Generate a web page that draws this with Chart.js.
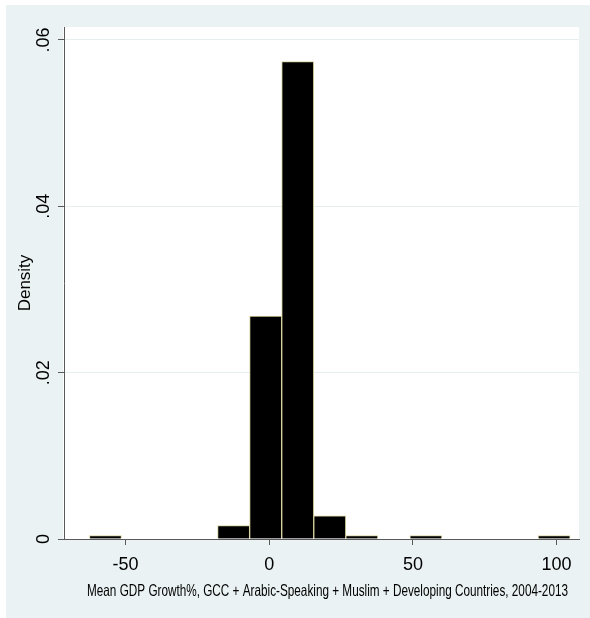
<!DOCTYPE html>
<html>
<head>
<meta charset="utf-8">
<script src="https://cdn.jsdelivr.net/npm/chart.js@4.4.1/dist/chart.umd.min.js"></script>
<style>
  html, body { margin: 0; padding: 0; background: #ffffff; }
  #wrap { width: 590px; height: 618px; position: relative; }
</style>
</head>
<body>
<div id="wrap"><canvas id="hist" width="590" height="618"></canvas></div>
<script>
// Histogram of mean GDP growth (%), density scale, bin width ~11.15
const binCenters = [-56.98, -45.83, -34.68, -23.53, -12.38, -1.23, 9.93, 21.08, 32.23, 43.38, 54.53, 65.68, 76.83, 87.98, 99.13];
const density    = [0.0004, 0, 0, 0, 0.0016, 0.0268, 0.0574, 0.0028, 0.0004, 0, 0.0004, 0, 0, 0, 0.0004];

const xTickValues = [-50, 0, 50, 100];
const xTickLabels = ['-50', '0', '50', '100'];
const yTickValues = [0, 0.02, 0.04, 0.06];
const yTickLabels = ['0', '.02', '.04', '.06'];

const xTitle = 'Mean GDP Growth%, GCC + Arabic-Speaking + Muslim + Developing Countries, 2004-2013';
const yTitle = 'Density';

const FONT = '"Liberation Sans", Arial, sans-serif';
const AXIS = '#5a5a5a';

// Graph region (light bluish gray) and white plot region
const regions = {
  id: 'regions',
  beforeDraw(chart) {
    const { ctx, chartArea: a } = chart;
    ctx.save();
    ctx.fillStyle = '#ffffff';
    ctx.fillRect(0, 0, chart.width, chart.height);
    ctx.fillStyle = '#eaf2f3';
    ctx.fillRect(6, 5, chart.width - 6, chart.height - 5);
    ctx.fillStyle = '#ffffff';
    ctx.fillRect(a.left - 1, a.top, a.right - a.left + 1, a.bottom - a.top);
    ctx.restore();
  }
};

// Condensed x-axis caption under the tick labels
const xCaption = {
  id: 'xCaption',
  afterDraw(chart) {
    const { ctx } = chart;
    ctx.save();
    ctx.fillStyle = '#000000';
    ctx.font = '16.5px ' + FONT;
    ctx.textAlign = 'center';
    ctx.textBaseline = 'middle';
    ctx.fillText(xTitle, 327.5, 591, 481);
    ctx.restore();
  }
};

const points = binCenters.map((x, i) => ({ x, y: density[i] }));

new Chart(document.getElementById('hist'), {
  type: 'bar',
  data: {
    datasets: [{
      data: points,
      backgroundColor: '#000000',
      borderColor: '#d9d2a0',
      borderWidth: 1,
      barPercentage: 1,
      categoryPercentage: 1
    }]
  },
  options: {
    responsive: false,
    animation: false,
    events: [],
    layout: { padding: { left: 0, right: 11, top: 27, bottom: 0 } },
    plugins: { legend: { display: false }, tooltip: { enabled: false } },
    scales: {
      x: {
        type: 'linear',
        offset: false,
        min: -71.4,
        max: 107.8,
        afterBuildTicks(scale) { scale.ticks = xTickValues.map(v => ({ value: v })); },
        afterFit(scale) { scale.height = 79; },
        ticks: {
          autoSkip: false,
          maxRotation: 0,
          padding: 9,
          color: '#000000',
          font: { family: FONT, size: 18 },
          callback: (v) => xTickLabels[xTickValues.indexOf(v)]
        },
        grid: { drawOnChartArea: false, drawTicks: true, tickLength: 6, tickColor: AXIS, offset: false },
        border: { display: true, color: AXIS, width: 1 },
        title: { display: false }
      },
      y: {
        type: 'linear',
        min: 0,
        max: 0.06156,
        afterBuildTicks(scale) { scale.ticks = yTickValues.map(v => ({ value: v })); },
        afterFit(scale) { scale.width = 64; },
        ticks: {
          autoSkip: false,
          minRotation: 90,
          maxRotation: 90,
          crossAlign: 'center',
          padding: 1,
          color: '#000000',
          font: { family: FONT, size: 18 },
          callback: (v) => yTickLabels[yTickValues.indexOf(v)]
        },
        grid: { drawOnChartArea: true, drawTicks: true, tickLength: 6, color: '#e6eef0', tickColor: AXIS, lineWidth: 1 },
        border: { display: true, color: AXIS, width: 1 },
        title: {
          display: true,
          text: yTitle,
          color: '#000000',
          font: { family: FONT, size: 17 },
          padding: { top: 15, bottom: 0 }
        }
      }
    }
  },
  plugins: [regions, xCaption]
});
</script>
</body>
</html>
